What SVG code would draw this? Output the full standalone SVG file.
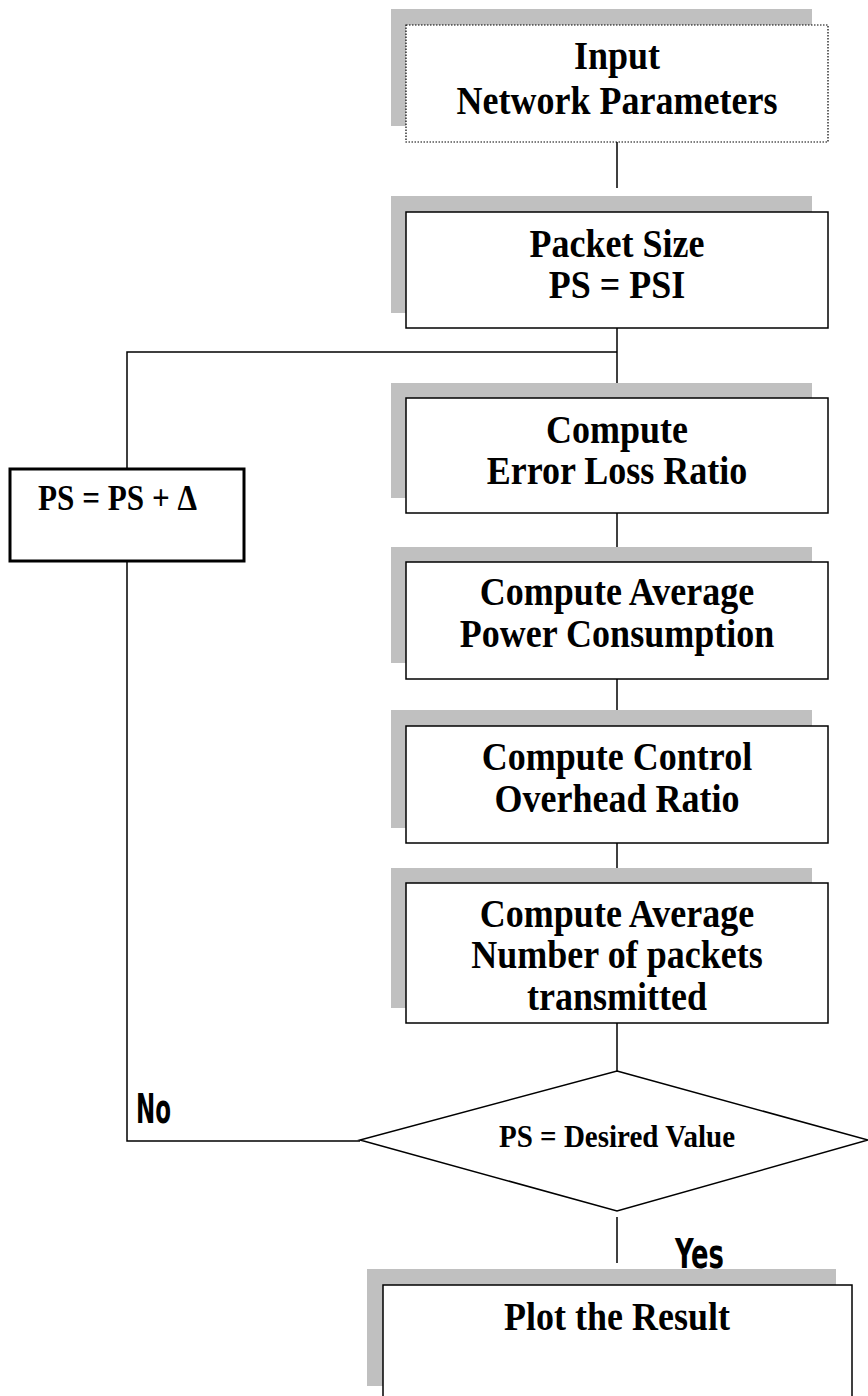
<svg xmlns="http://www.w3.org/2000/svg" width="868" height="1396" viewBox="0 0 868 1396">
<style>
.sh{fill:#c0c0c0;stroke:none}
.bx{fill:#fff;stroke:#000;stroke-width:1.5}
.dot{fill:#fff;stroke:#000;stroke-width:1.2;stroke-dasharray:1.5 1.5}
.t{font-family:"Liberation Serif","Times New Roman",serif;font-weight:bold;font-size:36px;fill:#000;text-anchor:middle}
.lbl{font-family:"Liberation Sans Narrow","DejaVu Sans Condensed","Liberation Sans",sans-serif;font-weight:bold;font-size:40px;fill:#000}
.ln{stroke:#000;stroke-width:1.5;fill:none}
</style>
<rect width="868" height="1396" fill="#fff"/>
<g id="connectors">
<line class="ln" x1="617" y1="142" x2="617" y2="188"/>
<line class="ln" x1="617" y1="328" x2="617" y2="398"/>
<polyline class="ln" points="617,352 127,352 127,468"/>
<line class="ln" x1="617" y1="511" x2="617" y2="556"/>
<line class="ln" x1="617" y1="679" x2="617" y2="726"/>
<line class="ln" x1="617" y1="843" x2="617" y2="883"/>
<line class="ln" x1="617" y1="1022" x2="617" y2="1071"/>
<polyline class="ln" points="127,557 127,1141 360,1141"/>
<line class="ln" x1="617" y1="1217" x2="617" y2="1263"/>
</g>
<g id="node-input">
<rect class="sh" x="391" y="9" width="421" height="117"/>
<rect class="dot" x="406" y="25" width="422" height="117"/>
<text class="t" transform="translate(617,69) scale(1,1.12)">Input</text>
<text class="t" transform="translate(617,114) scale(1,1.12)">Network Parameters</text>
</g>
<g id="node-packet">
<rect class="sh" x="391" y="196" width="421" height="117"/>
<rect class="bx" x="406" y="212" width="422" height="116"/>
<text class="t" transform="translate(617,257) scale(1,1.12)">Packet Size</text>
<text class="t" transform="translate(617,298) scale(1,1.12)">PS = PSI</text>
</g>
<g id="node-error">
<rect class="sh" x="391" y="383" width="421" height="115"/>
<rect class="bx" x="406" y="398" width="422" height="115"/>
<text class="t" transform="translate(617,443) scale(1,1.12)">Compute</text>
<text class="t" transform="translate(617,484) scale(1,1.12)">Error Loss Ratio</text>
</g>
<g id="node-power">
<rect class="sh" x="391" y="547" width="421" height="116"/>
<rect class="bx" x="406" y="562" width="422" height="117"/>
<text class="t" transform="translate(617,605) scale(1,1.12)">Compute Average</text>
<text class="t" transform="translate(617,647) scale(1,1.12)">Power Consumption</text>
</g>
<g id="node-overhead">
<rect class="sh" x="391" y="710" width="421" height="118"/>
<rect class="bx" x="406" y="726" width="422" height="117"/>
<text class="t" transform="translate(617,770) scale(1,1.12)">Compute Control</text>
<text class="t" transform="translate(617,812) scale(1,1.12)">Overhead Ratio</text>
</g>
<g id="node-packets">
<rect class="sh" x="391" y="868" width="421" height="140"/>
<rect class="bx" x="406" y="883" width="422" height="140"/>
<text class="t" transform="translate(617,927) scale(1,1.12)">Compute Average</text>
<text class="t" transform="translate(617,968) scale(1,1.12)">Number of packets</text>
<text class="t" transform="translate(617,1010) scale(1,1.12)">transmitted</text>
</g>
<g id="node-increment">
<rect x="10" y="469" width="234" height="92" fill="#fff" stroke="#000" stroke-width="3"/>
<text class="t" transform="translate(38,510) scale(1,1.1)" style="text-anchor:start;font-size:32px" textLength="159" lengthAdjust="spacingAndGlyphs">PS = PS + Δ</text>
</g>
<g id="node-decision">
<polygon class="bx" points="617,1071 868,1140 617,1211 360,1140"/>
<text class="t" transform="translate(617,1147) scale(1,1.2)" style="font-size:27px" textLength="236" lengthAdjust="spacingAndGlyphs">PS = Desired Value</text>
</g>
<g id="labels">
<text class="lbl" x="136" y="1123" textLength="35" lengthAdjust="spacingAndGlyphs">No</text>
<text class="lbl" x="675" y="1268" textLength="49" lengthAdjust="spacingAndGlyphs">Yes</text>
</g>
<g id="node-plot">
<rect class="sh" x="367" y="1269" width="469" height="117"/>
<rect class="bx" x="383" y="1285" width="469" height="120"/>
<text class="t" transform="translate(617,1330) scale(1,1.12)">Plot the Result</text>
</g>
</svg>
